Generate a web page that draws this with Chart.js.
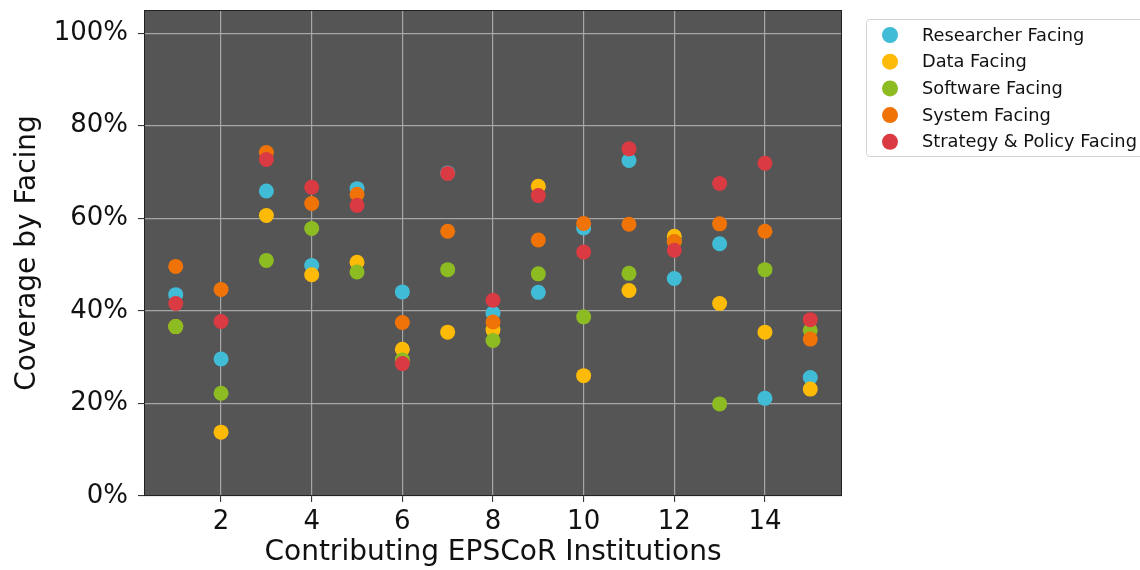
<!DOCTYPE html>
<html><head><meta charset="utf-8">
<script src="https://cdn.jsdelivr.net/npm/chart.js@4.4.0/dist/chart.umd.min.js"></script>
<style>html,body{margin:0;padding:0;background:#fff;}#wrap{width:1140px;height:570px;position:relative;}</style>
</head><body><div id="wrap"><canvas id="c" width="1140" height="570"></canvas></div>
<script>
const institutions = [1,2,3,4,5,6,7,8,9,10,11,12,13,14,15];
const seriesNames = ["Researcher Facing","Data Facing","Software Facing","System Facing","Strategy & Policy Facing"];
const researcherFacing = [43.5,29.6,65.9,49.8,66.4,44.1,69.8,39.5,44.0,57.9,72.5,47.0,54.5,21.1,25.6];
const dataFacing       = [36.6,13.8,60.6,47.8,50.5,31.7,35.4,35.9,66.9,26.0,44.4,56.1,41.6,35.4,23.1];
const softwareFacing   = [36.6,22.2,50.9,57.8,48.4,29.4,48.9,33.6,48.0,38.7,48.1,55.0,19.9,48.9,35.8];
const systemFacing     = [49.6,44.6,74.2,63.2,65.2,37.5,57.2,37.6,55.3,58.9,58.7,55.0,58.8,57.2,33.9];
const strategyFacing   = [41.6,37.7,72.7,66.7,62.8,28.6,69.7,42.3,64.9,52.7,75.0,53.1,67.5,71.9,38.1];
const xTickValues = [2,4,6,8,10,12,14];
const yTickValues = [0,20,40,60,80,100];
const colors = ["#40bcd6","#fdbb07","#8dbb22","#f07308","#da3a41"];

const allSeries = [researcherFacing,dataFacing,softwareFacing,systemFacing,strategyFacing];
const FONT = "'DejaVu Sans', sans-serif";
Chart.defaults.font.family = FONT;
Chart.defaults.color = '#111';

const datasets = allSeries.map((vals,i)=>({
  label: seriesNames[i],
  data: institutions.map((x,j)=>({x:x,y:vals[j]})),
  backgroundColor: colors[i],
  borderWidth: 0,
  pointRadius: 7.5,
  pointHoverRadius: 7.5,
  order: allSeries.length - i
}));

const bgBorder = {
  id:'bgBorder',
  beforeDraw(chart){
    const {ctx, chartArea:a} = chart;
    ctx.save(); ctx.fillStyle='#555555';
    ctx.fillRect(a.left,a.top,a.right-a.left,a.bottom-a.top); ctx.restore();
  },
  afterDraw(chart){
    const {ctx, chartArea:a} = chart;
    ctx.save(); ctx.strokeStyle='#222'; ctx.lineWidth=1;
    ctx.strokeRect(a.left+0.5,a.top+0.5,a.right-a.left-1,a.bottom-a.top-1);
    // legend
    const bx=866.5, by=19.5, bw=285, bh=137, r=3;
    ctx.beginPath();
    ctx.moveTo(bx+r,by); ctx.lineTo(bx+bw-r,by); ctx.arcTo(bx+bw,by,bx+bw,by+r,r);
    ctx.lineTo(bx+bw,by+bh-r); ctx.arcTo(bx+bw,by+bh,bx+bw-r,by+bh,r);
    ctx.lineTo(bx+r,by+bh); ctx.arcTo(bx,by+bh,bx,by+bh-r,r);
    ctx.lineTo(bx,by+r); ctx.arcTo(bx,by,bx+r,by,r); ctx.closePath();
    ctx.fillStyle='#fff'; ctx.fill(); ctx.strokeStyle='#d2d2d2'; ctx.stroke();
    ctx.font = "17.8px " + FONT; ctx.textBaseline='middle'; ctx.textAlign='left';
    chart.data.datasets.forEach((ds,i)=>{
      const y = 35 + i*26.7;
      ctx.beginPath(); ctx.arc(890,y,8,0,Math.PI*2); ctx.fillStyle=ds.backgroundColor; ctx.fill();
      ctx.fillStyle='#111'; ctx.fillText(ds.label, 922, y+1);
    });
    ctx.restore();
  }
};

new Chart(document.getElementById('c'), {
  type:'scatter',
  data:{datasets},
  plugins:[bgBorder],
  options:{
    responsive:false, animation:false,
    layout:{padding:{top:10,right:298,left:0,bottom:0}},
    plugins:{legend:{display:false}, tooltip:{enabled:false}},
    scales:{
      x:{
        type:'linear', min:0.3, max:15.7,
        afterBuildTicks(s){ s.ticks = xTickValues.map(v=>({value:v})); },
        afterFit(s){ s.height = 74; s.paddingLeft=0; s.paddingRight=0; },
        ticks:{font:{size:26}, color:'#111', padding:5, maxRotation:0, autoSkip:false},
        grid:{color:'#a6a6a6', lineWidth:1.2, tickLength:6, tickColor:'#222', tickWidth:1},
        border:{display:false},
        title:{display:true, text:'Contributing EPSCoR Institutions', font:{size:28}, color:'#111', padding:{top:0,bottom:0}}
      },
      y:{
        type:'linear', min:0, max:105,
        afterBuildTicks(s){ s.ticks = yTickValues.map(v=>({value:v})); },
        afterFit(s){ s.width = 144; s.paddingTop=0; s.paddingBottom=0; },
        ticks:{font:{size:26}, color:'#111', padding:10, callback:(v)=>v+'%'},
        grid:{color:'#a6a6a6', lineWidth:1.2, tickLength:6, tickColor:'#222', tickWidth:1},
        border:{display:false},
        title:{display:true, text:'Coverage by Facing', font:{size:28}, color:'#111', padding:{top:11,bottom:0}}
      }
    }
  }
});
</script></body></html>
